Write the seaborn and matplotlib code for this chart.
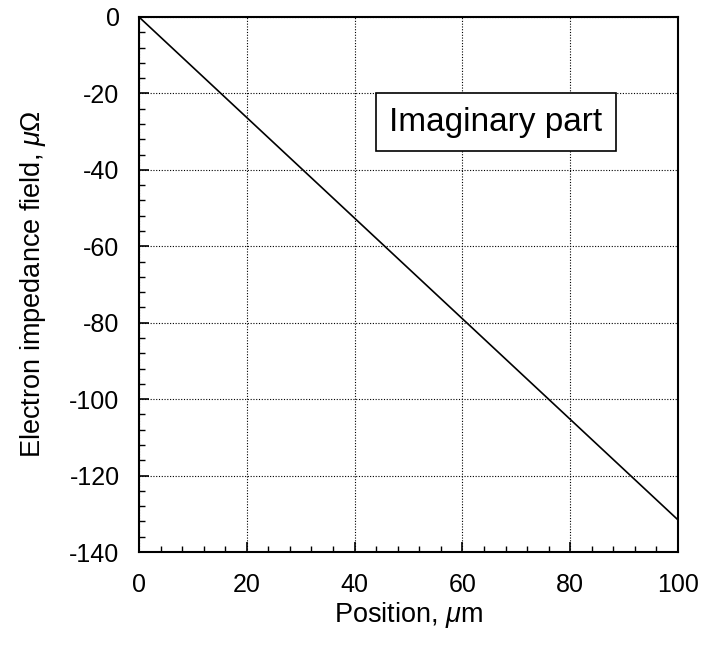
import matplotlib
matplotlib.use("Agg")
import matplotlib.pyplot as plt
import seaborn as sns
import numpy as np
import pandas as pd
from matplotlib.ticker import MultipleLocator

position = [0, 100]
impedance = [0, -131.6]
x_ticks = [0, 20, 40, 60, 80, 100]
y_ticks = [0, -20, -40, -60, -80, -100, -120, -140]

sns.set_style("white")
plt.rcParams['font.family'] = ['Liberation Sans', 'DejaVu Sans']
plt.rcParams['mathtext.fontset'] = 'custom'
plt.rcParams['mathtext.it'] = 'Liberation Sans:italic'
plt.rcParams['mathtext.rm'] = 'Liberation Sans'
plt.rcParams['axes.unicode_minus'] = False
plt.rcParams['text.color'] = 'black'
plt.rcParams['axes.labelcolor'] = 'black'
plt.rcParams['xtick.color'] = 'black'
plt.rcParams['ytick.color'] = 'black'

df = pd.DataFrame({"Position": position, "Impedance": impedance})

fig = plt.figure(figsize=(7.19, 6.45), dpi=100)
ax = fig.add_axes([139/719, 1 - 552/645, (678-139)/719, (552-17)/645])
sns.lineplot(data=df, x="Position", y="Impedance", ax=ax, color="black", linewidth=1.2)

ax.set_xlim(0, 100)
ax.set_ylim(-140, 0)
ax.set_xticks(x_ticks)
ax.set_yticks(y_ticks)
ax.xaxis.set_minor_locator(MultipleLocator(4))
ax.yaxis.set_minor_locator(MultipleLocator(4))
ax.tick_params(which="major", direction="in", length=7, width=1.2, labelsize=18, color="black")
ax.tick_params(axis="y", which="major", pad=14)
ax.tick_params(axis="x", which="major", pad=15)
ax.tick_params(which="minor", direction="in", length=4, width=1.0, color="black")
ax.tick_params(axis="both", which="both", bottom=True, left=True, top=False, right=False)
ax.grid(True, which="major", linestyle=(0, (1, 1.5)), color="black", linewidth=0.8)
for s in ax.spines.values():
    s.set_color("black")
    s.set_linewidth(1.5)

ax.set_xlabel(r"Position, $\mathit{\mu}$m", fontsize=19.5)
ax.set_ylabel(r"Electron impedance field, $\mathit{\mu\Omega}$", fontsize=19.5)
ax.xaxis.set_label_coords(0.5, -0.09)
ax.yaxis.set_label_coords(-0.169, 0.5)

ax.text(66.2, -27.5, "Imaginary part", fontsize=24, ha="center", va="center",
        bbox=dict(boxstyle="square,pad=0.4", facecolor="white", edgecolor="black", linewidth=1.2))

fig.savefig("out.png", dpi=100)
